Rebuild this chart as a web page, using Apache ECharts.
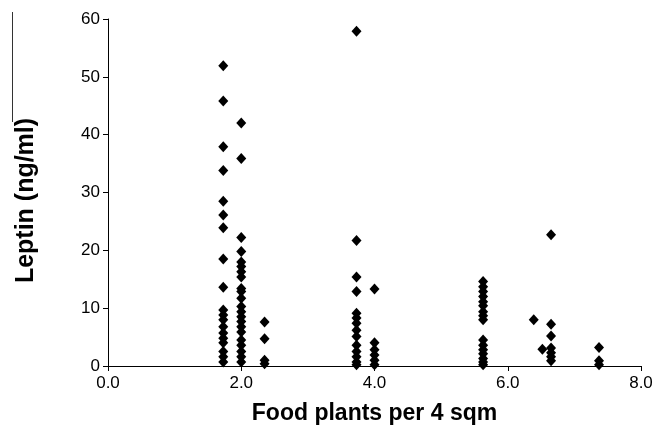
<!DOCTYPE html>
<html><head><meta charset="utf-8">
<script src="https://cdn.jsdelivr.net/npm/echarts@6/dist/echarts.min.js"></script>
<style>html,body{margin:0;padding:0;background:#fff}#c{width:657px;height:426px}</style>
</head><body><div id="c"></div>
<script>
var xTicks = [0, 2, 4, 6, 8];
var yTicks = [0, 10, 20, 30, 40, 50, 60];
var xTitle = 'Food plants per 4 sqm';
var yTitle = 'Leptin (ng/ml)';
// food plants value for each group of points
var groupX = [1.73, 2.0, 2.35, 3.73, 4.0, 5.63, 6.39, 6.52, 6.65, 7.37];
// leptin values in each group
var g1 = [51.9, 45.8, 37.9, 33.8, 28.5, 26.1, 23.9, 18.5, 13.6, 9.7, 8.8, 8.0, 6.8, 5.7, 4.8, 4.0, 2.5, 1.6, 0.7];
var g2 = [42.0, 35.9, 22.2, 19.8, 18.0, 17.2, 16.3, 15.4, 13.4, 12.9, 11.7, 10.3, 9.4, 8.5, 7.7, 6.8, 5.9, 4.5, 3.6, 2.5, 1.6, 0.7];
var g3 = [7.6, 4.7, 1.0, 0.4];
var g4 = [57.9, 21.7, 15.4, 12.9, 9.1, 8.3, 7.4, 6.2, 5.1, 3.6, 2.5, 1.6, 0.7, 0.2];
var g5 = [13.3, 4.0, 2.8, 1.9, 1.0, 0.2];
var g6 = [14.6, 13.7, 12.9, 12.0, 11.1, 10.4, 9.4, 8.7, 8.0, 4.5, 3.6, 2.8, 2.1, 1.3, 0.7, 0.2];
var g7 = [8.0];
var g8 = [2.9];
var g9 = [22.7, 7.2, 5.2, 3.1, 2.3, 1.6, 0.9];
var g10 = [3.2, 0.9, 0.2];
var groupY = [g1, g2, g3, g4, g5, g6, g7, g8, g9, g10];

var points = [];
groupX.forEach(function (x, i) {
  groupY[i].forEach(function (y) { points.push([x, y]); });
});

var chart = echarts.init(document.getElementById('c'));
var font = 'Liberation Sans, Arial, sans-serif';
chart.setOption({
  animation: false,
  backgroundColor: '#fff',
  grid: { left: 108, right: 16, top: 19, bottom: 60, outerBoundsMode: 'none', containLabel: false },
  xAxis: {
    type: 'value', min: xTicks[0], max: xTicks[xTicks.length - 1], interval: 2,
    name: xTitle, nameLocation: 'middle', nameGap: 36,
    nameTextStyle: { fontFamily: font, fontSize: 23, fontWeight: 'bold', color: '#000' },
    axisLine: { show: true, lineStyle: { color: '#000', width: 1 } },
    axisTick: { show: true, length: 5, lineStyle: { color: '#000' } },
    axisLabel: { fontFamily: font, fontSize: 17, color: '#000', margin: 9,
      formatter: function (v) { return v.toFixed(1); } },
    splitLine: { show: false }
  },
  yAxis: {
    type: 'value', min: yTicks[0], max: yTicks[yTicks.length - 1], interval: 10,
    name: yTitle, nameLocation: 'middle', nameGap: 69, nameRotate: 90,
    nameTextStyle: { fontFamily: font, fontSize: 25, fontWeight: 'bold', color: '#000',
      padding: [0, 16, 0, 0] },
    axisLine: { show: true, lineStyle: { color: '#000', width: 1 } },
    axisTick: { show: true, length: 5, lineStyle: { color: '#000' } },
    axisLabel: { fontFamily: font, fontSize: 17, color: '#000', margin: 8 },
    splitLine: { show: false }
  },
  graphic: [{
    type: 'line', shape: { x1: 12.5, y1: 12, x2: 12.5, y2: 122 },
    style: { stroke: '#333', lineWidth: 1 }
  }],
  series: [{
    type: 'scatter', data: points, symbol: 'diamond', symbolSize: [10, 11],
    itemStyle: { color: '#000', opacity: 1 }
  }]
});
</script></body></html>
